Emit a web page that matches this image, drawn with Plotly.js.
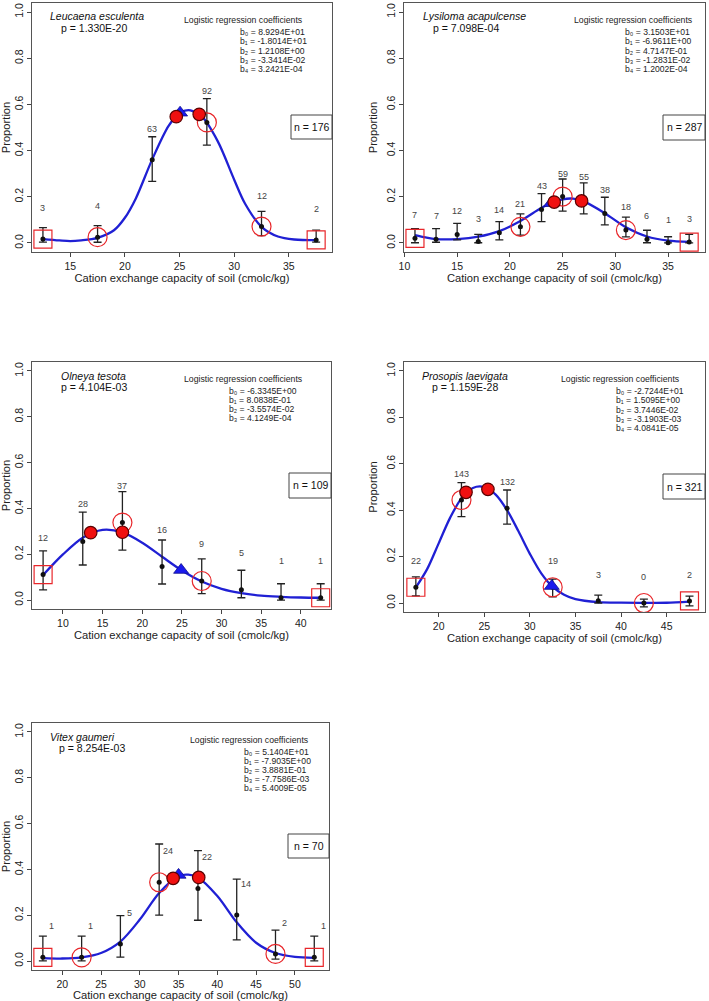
<!DOCTYPE html>
<html><head><meta charset="utf-8">
<script src="https://cdn.plot.ly/plotly-3.0.1.min.js"></script>
<style>html,body{margin:0;padding:0;background:#fff}</style>
</head><body><div id="chart" style="width:709px;height:1001px"></div>
<script>
// ---------------- DATA ----------------
const xTitle = "Cation exchange capacity of soil (cmolc/kg)";
const yTitle = "Proportion";
const coefHeader = "Logistic regression coefficients";
const coefNames = ["b₀", "b₁", "b₂", "b₃", "b₄"];
const yTickVals = [0, 0.2, 0.4, 0.6, 0.8, 1.0];

// Panel 1 — Leucaena esculenta
const leu_species = "Leucaena esculenta";
const leu_p = "p = 1.330E-20";
const leu_n = "n = 176";
const leu_coef = ["8.9294E+01", "-1.8014E+01", "1.2108E+00", "-3.3414E-02", "3.2421E-04"];
const leu_x = [12.5, 17.5, 22.5, 27.5, 32.5, 37.5];
const leu_prop = [0.017, 0.025, 0.36, 0.522, 0.071, 0.013];
const leu_lo = [0.004, 0.003, 0.267, 0.424, 0.032, 0.004];
const leu_hi = [0.066, 0.075, 0.46, 0.625, 0.137, 0.056];
const leu_count = [3, 4, 63, 92, 12, 2];
const leu_fitX = [12.5, 14, 15, 16, 17.5, 19, 20, 21, 22.5, 24, 25, 25.5, 26, 27, 28.5, 30, 31, 32.5, 34, 35.5, 37.5];
const leu_fitY = [0.017, 0.011, 0.008, 0.011, 0.022, 0.055, 0.109, 0.193, 0.362, 0.507, 0.563, 0.573, 0.574, 0.55, 0.44, 0.274, 0.17, 0.07, 0.028, 0.015, 0.012];
const leu_circleX = [17.5, 27.5, 32.5];
const leu_squareX = [12.5, 37.5];
const leu_dotX = [24.7, 26.8];
const leu_dotY = [0.547, 0.557];
const leu_triX = [25.05];
const leu_triY = [0.564];

// Panel 2 — Lysiloma acapulcense
const lys_species = "Lysiloma acapulcense";
const lys_p = "p = 7.098E-04";
const lys_n = "n = 287";
const lys_coef = ["3.1503E+01", "-6.9611E+00", "4.7147E-01", "-1.2831E-02", "1.2002E-04"];
const lys_x = [11, 13, 15, 17, 19, 21, 23, 25, 27, 29, 31, 33, 35, 37];
const lys_prop = [0.020, 0.016, 0.037, 0.006, 0.044, 0.070, 0.145, 0.201, 0.185, 0.128, 0.056, 0.016, 0.001, 0.004];
const lys_lo = [0.001, 0.003, 0.013, 0.001, 0.013, 0.034, 0.092, 0.138, 0.126, 0.078, 0.026, 0.001, 0.0, 0.0];
const lys_hi = [0.062, 0.062, 0.085, 0.037, 0.092, 0.126, 0.214, 0.277, 0.26, 0.198, 0.112, 0.055, 0.027, 0.037];
const lys_count = [7, 7, 12, 3, 14, 21, 43, 59, 55, 38, 18, 6, 1, 3];
const lys_fitX = [11, 12, 13, 15, 17, 19, 21, 23, 24, 25, 26, 27, 29, 31, 33, 35, 37];
const lys_fitY = [0.034, 0.024, 0.017, 0.017, 0.027, 0.051, 0.095, 0.152, 0.174, 0.189, 0.192, 0.18, 0.129, 0.068, 0.028, 0.01, 0.005];
const lys_circleX = [21, 25, 31];
const lys_squareX = [11, 37];
const lys_dotX = [24.2, 26.8];
const lys_dotY = [0.177, 0.182];
const lys_triX = [23.9];
const lys_triY = [0.172];

// Panel 3 — Olneya tesota
const oln_species = "Olneya tesota";
const oln_p = "p = 4.104E-03";
const oln_n = "n = 109";
const oln_coef = ["-6.3345E+00", "8.0838E-01", "-3.5574E-02", "4.1249E-04"];
const oln_x = [7.5, 12.5, 17.5, 22.5, 27.5, 32.5, 37.5, 42.5];
const oln_prop = [0.111, 0.256, 0.338, 0.146, 0.083, 0.045, 0.01, 0.01];
const oln_lo = [0.044, 0.153, 0.218, 0.07, 0.028, 0.01, 0.0, 0.0];
const oln_hi = [0.215, 0.384, 0.473, 0.262, 0.18, 0.13, 0.071, 0.071];
const oln_count = [12, 28, 37, 16, 9, 5, 1, 1];
const oln_fitX = [7.5, 10, 12.5, 15, 17.5, 20, 22.5, 25, 27.5, 30, 32.5, 35, 37.5, 40, 42.5];
const oln_fitY = [0.109, 0.199, 0.272, 0.306, 0.295, 0.25, 0.189, 0.129, 0.081, 0.049, 0.03, 0.019, 0.014, 0.011, 0.01];
const oln_circleX = [17.5, 27.5];
const oln_squareX = [7.5, 42.5];
const oln_dotX = [13.5, 17.5];
const oln_dotY = [0.294, 0.296];
const oln_triX = [24.9];
const oln_triY = [0.131];

// Panel 4 — Prosopis laevigata
const pro_species = "Prosopis laevigata";
const pro_p = "p = 1.159E-28";
const pro_n = "n = 321";
const pro_coef = ["-2.7244E+01", "1.5095E+00", "3.7446E-02", "-3.1903E-03", "4.0841E-05"];
const pro_x = [17.5, 22.5, 27.5, 32.5, 37.5, 42.5, 47.5];
const pro_prop = [0.068, 0.444, 0.408, 0.068, 0.01, 0.0, 0.009];
const pro_lo = [0.031, 0.372, 0.34, 0.027, 0.0, -0.017, -0.012];
const pro_hi = [0.113, 0.519, 0.487, 0.103, 0.034, 0.017, 0.03];
const pro_count = [22, 143, 132, 19, 3, 0, 2];
const pro_fitX = [17.5, 18.75, 20, 21.25, 22.5, 23.75, 25, 26.25, 27.5, 28.75, 30, 31.25, 32.5, 33.75, 35, 37.5, 40, 42.5, 45, 47.5];
const pro_fitY = [0.067, 0.147, 0.257, 0.367, 0.451, 0.496, 0.50, 0.467, 0.40, 0.309, 0.212, 0.128, 0.07, 0.036, 0.017, 0.004, 0.0014, 0.001, 0.0012, 0.006];
const pro_circleX = [22.5, 32.5, 42.5];
const pro_squareX = [17.5, 47.5];
const pro_dotX = [23.0, 25.4];
const pro_dotY = [0.477, 0.49];
const pro_triX = [32.4];
const pro_triY = [0.073];

// Panel 5 — Vitex gaumeri
const vit_species = "Vitex gaumeri";
const vit_p = "p = 8.254E-03";
const vit_n = "n = 70";
const vit_coef = ["5.1404E+01", "-7.9035E+00", "3.8881E-01", "-7.7586E-03", "5.4009E-05"];
const vit_x = [17.5, 22.5, 27.5, 32.5, 37.5, 42.5, 47.5, 52.5];
const vit_prop = [0.016, 0.016, 0.074, 0.344, 0.317, 0.201, 0.031, 0.016];
const vit_lo = [0.001, 0.001, 0.017, 0.2, 0.178, 0.092, 0.008, 0.001];
const vit_hi = [0.109, 0.109, 0.198, 0.511, 0.482, 0.358, 0.135, 0.109];
const vit_count = [1, 1, 5, 24, 22, 14, 2, 1];
const vit_fitX = [17.5, 20, 22.5, 25, 27.5, 30, 32.5, 35, 36.25, 37.5, 40, 42.5, 45, 47.5, 50, 52.5];
const vit_fitY = [0.013, 0.011, 0.016, 0.035, 0.085, 0.181, 0.297, 0.371, 0.377, 0.365, 0.284, 0.169, 0.08, 0.035, 0.018, 0.014];
const vit_circleX = [22.5, 32.5, 47.5];
const vit_squareX = [17.5, 52.5];
const vit_dotX = [34.3, 37.6];
const vit_dotY = [0.361, 0.365];
const vit_triX = [35.0];
const vit_triY = [0.376];

// ---------------- LAYOUT (pixel geometry) ----------------
const W = 709, H = 1001;
const FONT = "Liberation Sans, Arial, sans-serif";

const panels = [
  { species: leu_species, p: leu_p, n: leu_n, coef: leu_coef, x: leu_x, prop: leu_prop, lo: leu_lo, hi: leu_hi, count: leu_count,
    fitX: leu_fitX, fitY: leu_fitY, circleX: leu_circleX, squareX: leu_squareX, dotX: leu_dotX, dotY: leu_dotY, triX: leu_triX, triY: leu_triY,
    box: [32, 332, 2.8, 252.2], xr: [11.5, 38.95], lab: [0, 31],
    sp: [97, 16], pp: [94, 27.7], hd: [243, 20], cl: 239, cy: [32.3, 41.5, 50.7, 59.9, 69.1], nb: [291, 332, 115, 139] },
  { species: lys_species, p: lys_p, n: lys_n, coef: lys_coef, x: lys_x, prop: lys_prop, lo: lys_lo, hi: lys_hi, count: lys_count,
    fitX: lys_fitX, fitY: lys_fitY, circleX: lys_circleX, squareX: lys_squareX, dotX: lys_dotX, dotY: lys_dotY, triX: lys_triX, triY: lys_triY,
    box: [404, 705, 2.8, 252.2], xr: [9.96, 38.5], lab: [0, 23],
    sp: [474.7, 16], pp: [465.8, 28], hd: [633.8, 20], cl: 624.3, cy: [32.3, 41.5, 50.7, 59.9, 69.1], nb: [663, 705, 115, 140] },
  { species: oln_species, p: oln_p, n: oln_n, coef: oln_coef, x: oln_x, prop: oln_prop, lo: oln_lo, hi: oln_hi, count: oln_count,
    fitX: oln_fitX, fitY: oln_fitY, circleX: oln_circleX, squareX: oln_squareX, dotX: oln_dotX, dotY: oln_dotY, triX: oln_triX, triY: oln_triY,
    box: [32, 331, 361.8, 609.2], xr: [6.1, 43.8], lab: [0, 37],
    sp: [93.8, 375.7], pp: [93.8, 386.7], hd: [243.5, 379], cl: 228.3, cy: [390.7, 399.9, 409.1, 418.3], nb: [289, 331, 473, 498] },
  { species: pro_species, p: pro_p, n: pro_n, coef: pro_coef, x: pro_x, prop: pro_prop, lo: pro_lo, hi: pro_hi, count: pro_count,
    fitX: pro_fitX, fitY: pro_fitY, circleX: pro_circleX, squareX: pro_squareX, dotX: pro_dotX, dotY: pro_dotY, triX: pro_triX, triY: pro_triY,
    box: [404, 705, 361.7, 612.3], xr: [16.2, 49.2], lab: [0, 26],
    sp: [465.3, 375.7], pp: [465.3, 387.3], hd: [620.5, 379.3], cl: 615, cy: [391, 400.3, 409.6, 418.9, 428.2], nb: [663, 705, 474, 499] },
  { species: vit_species, p: vit_p, n: vit_n, coef: vit_coef, x: vit_x, prop: vit_prop, lo: vit_lo, hi: vit_hi, count: vit_count,
    fitX: vit_fitX, fitY: vit_fitY, circleX: vit_circleX, squareX: vit_squareX, dotX: vit_dotX, dotY: vit_dotY, triX: vit_triX, triY: vit_triY,
    box: [32, 329, 722.8, 970.2], xr: [16.1, 54.4], lab: [9, 31],
    sp: [82, 736.7], pp: [91.8, 748.3], hd: [249, 740], cl: 243.3, cy: [751.7, 760.7, 769.7, 778.7, 787.7], nb: [288, 329, 834, 858] }
];

const px = v => v / W;
const py = v => 1 - v / H;

const traces = [];
const annotations = [];
const shapes = [];
const layout = {
  width: W, height: H,
  margin: { l: 0, r: 0, t: 0, b: 0 },
  paper_bgcolor: "#fff", plot_bgcolor: "#fff",
  showlegend: false,
  font: { family: FONT, color: "#222" },
  annotations: annotations,
  shapes: shapes
};

const BLUE = "#2020d4";
const RED = "#e8262a";

panels.forEach((P, i) => {
  const k = i === 0 ? "" : String(i + 1);
  const xa = "x" + k, ya = "y" + k;
  const [x0, x1, y0, y1] = P.box;

  layout["xaxis" + k] = {
    domain: [px(x0), px(x1)], range: P.xr, anchor: ya,
    tick0: 0, dtick: 5, ticks: "outside", ticklen: 4, tickwidth: 1, tickcolor: "#444",
    showline: true, mirror: true, linecolor: "#555", linewidth: 1,
    showgrid: false, zeroline: false,
    tickfont: { family: FONT, size: 10.5, color: "#222" },
    title: { text: xTitle, font: { family: FONT, size: 11.2, color: "#222" }, standoff: 2 }
  };
  layout["yaxis" + k] = {
    domain: [py(y1), py(y0)], range: [-0.04, 1.04], anchor: xa,
    tickvals: yTickVals, tickformat: ".1f", tickangle: -90,
    ticks: "outside", ticklen: 4, tickwidth: 1, tickcolor: "#444",
    showline: true, mirror: true, linecolor: "#555", linewidth: 1,
    showgrid: false, zeroline: false,
    tickfont: { family: FONT, size: 10.5, color: "#222" },
    title: { text: yTitle, font: { family: FONT, size: 11.2, color: "#222" }, standoff: 4 }
  };

  // fitted curve
  traces.push({ type: "scatter", mode: "lines", x: P.fitX, y: P.fitY, xaxis: xa, yaxis: ya,
    line: { color: BLUE, width: 2.3, shape: "spline", smoothing: 0.9 }, hoverinfo: "skip" });

  // observed proportions with CIs
  traces.push({ type: "scatter", mode: "markers", x: P.x, y: P.prop, xaxis: xa, yaxis: ya,
    marker: { color: "#111", size: 5 },
    error_y: { type: "data", symmetric: false,
      array: P.hi.map((h, j) => h - P.prop[j]),
      arrayminus: P.lo.map((l, j) => P.prop[j] - l),
      color: "#222", thickness: 1.3, width: 4 } });

  const lookup = xs => xs.map(v => P.prop[P.x.indexOf(v)]);
  // open circles
  traces.push({ type: "scatter", mode: "markers", x: P.circleX, y: lookup(P.circleX), xaxis: xa, yaxis: ya,
    marker: { symbol: "circle-open", size: 19, color: RED, line: { width: 1.2, color: RED } } });
  // open squares
  traces.push({ type: "scatter", mode: "markers", x: P.squareX, y: lookup(P.squareX), xaxis: xa, yaxis: ya,
    marker: { symbol: "square-open", size: 18, color: RED, line: { width: 1.2, color: RED } } });
  // blue triangle
  traces.push({ type: "scatter", mode: "markers", x: P.triX, y: P.triY, xaxis: xa, yaxis: ya,
    marker: { symbol: "triangle-up", size: 13, color: "#1a1aee", line: { width: 0.8, color: "#10108a" } } });
  // red filled circles
  traces.push({ type: "scatter", mode: "markers", x: P.dotX, y: P.dotY, xaxis: xa, yaxis: ya,
    marker: { symbol: "circle", size: 12.5, color: "#f01010", line: { width: 1.2, color: "#5a0000" } } });

  // count labels (placed above each observed point)
  const xr = P.xr, yr = [-0.04, 1.04];
  P.x.forEach((xv, j) => {
    const cx = x0 + (xv - xr[0]) / (xr[1] - xr[0]) * (x1 - x0) + P.lab[0];
    const cy = y1 - (P.prop[j] - yr[0]) / (yr[1] - yr[0]) * (y1 - y0) - P.lab[1];
    annotations.push({ xref: "paper", yref: "paper", x: px(cx), y: py(cy), text: String(P.count[j]),
      showarrow: false, xanchor: "center", yanchor: "middle",
      font: { family: FONT, size: 9, color: "#444" } });
  });

  // species & p
  annotations.push({ xref: "paper", yref: "paper", x: px(P.sp[0]), y: py(P.sp[1]), text: "<i>" + P.species + "</i>",
    showarrow: false, xanchor: "center", yanchor: "middle", font: { family: FONT, size: 10.5, color: "#111" } });
  annotations.push({ xref: "paper", yref: "paper", x: px(P.pp[0]), y: py(P.pp[1]), text: P.p,
    showarrow: false, xanchor: "center", yanchor: "middle", font: { family: FONT, size: 10.5, color: "#111" } });
  // coefficient header + lines
  annotations.push({ xref: "paper", yref: "paper", x: px(P.hd[0]), y: py(P.hd[1]), text: coefHeader,
    showarrow: false, xanchor: "center", yanchor: "middle", font: { family: FONT, size: 8.7, color: "#222" } });
  P.coef.forEach((c, j) => {
    annotations.push({ xref: "paper", yref: "paper", x: px(P.cl), y: py(P.cy[j]), text: coefNames[j] + " = " + c,
      showarrow: false, xanchor: "left", yanchor: "middle", borderpad: 0,
      font: { family: FONT, size: 8.6, color: "#222" } });
  });
  // n box: rectangle shape + text
  const [nx0, nx1, ny0, ny1] = P.nb;
  shapes.push({ type: "rect", xref: "paper", yref: "paper", x0: px(nx0), x1: px(nx1), y0: py(ny1), y1: py(ny0),
    line: { color: "#444", width: 1 }, fillcolor: "#fff", layer: "above" });
  annotations.push({ xref: "paper", yref: "paper", x: px((nx0 + nx1) / 2), y: py((ny0 + ny1) / 2), text: P.n,
    showarrow: false, xanchor: "center", yanchor: "middle",
    font: { family: FONT, size: 10.5, color: "#111" } });
});

Plotly.newPlot("chart", traces, layout, { displayModeBar: false, staticPlot: true });
</script>
</body></html>
